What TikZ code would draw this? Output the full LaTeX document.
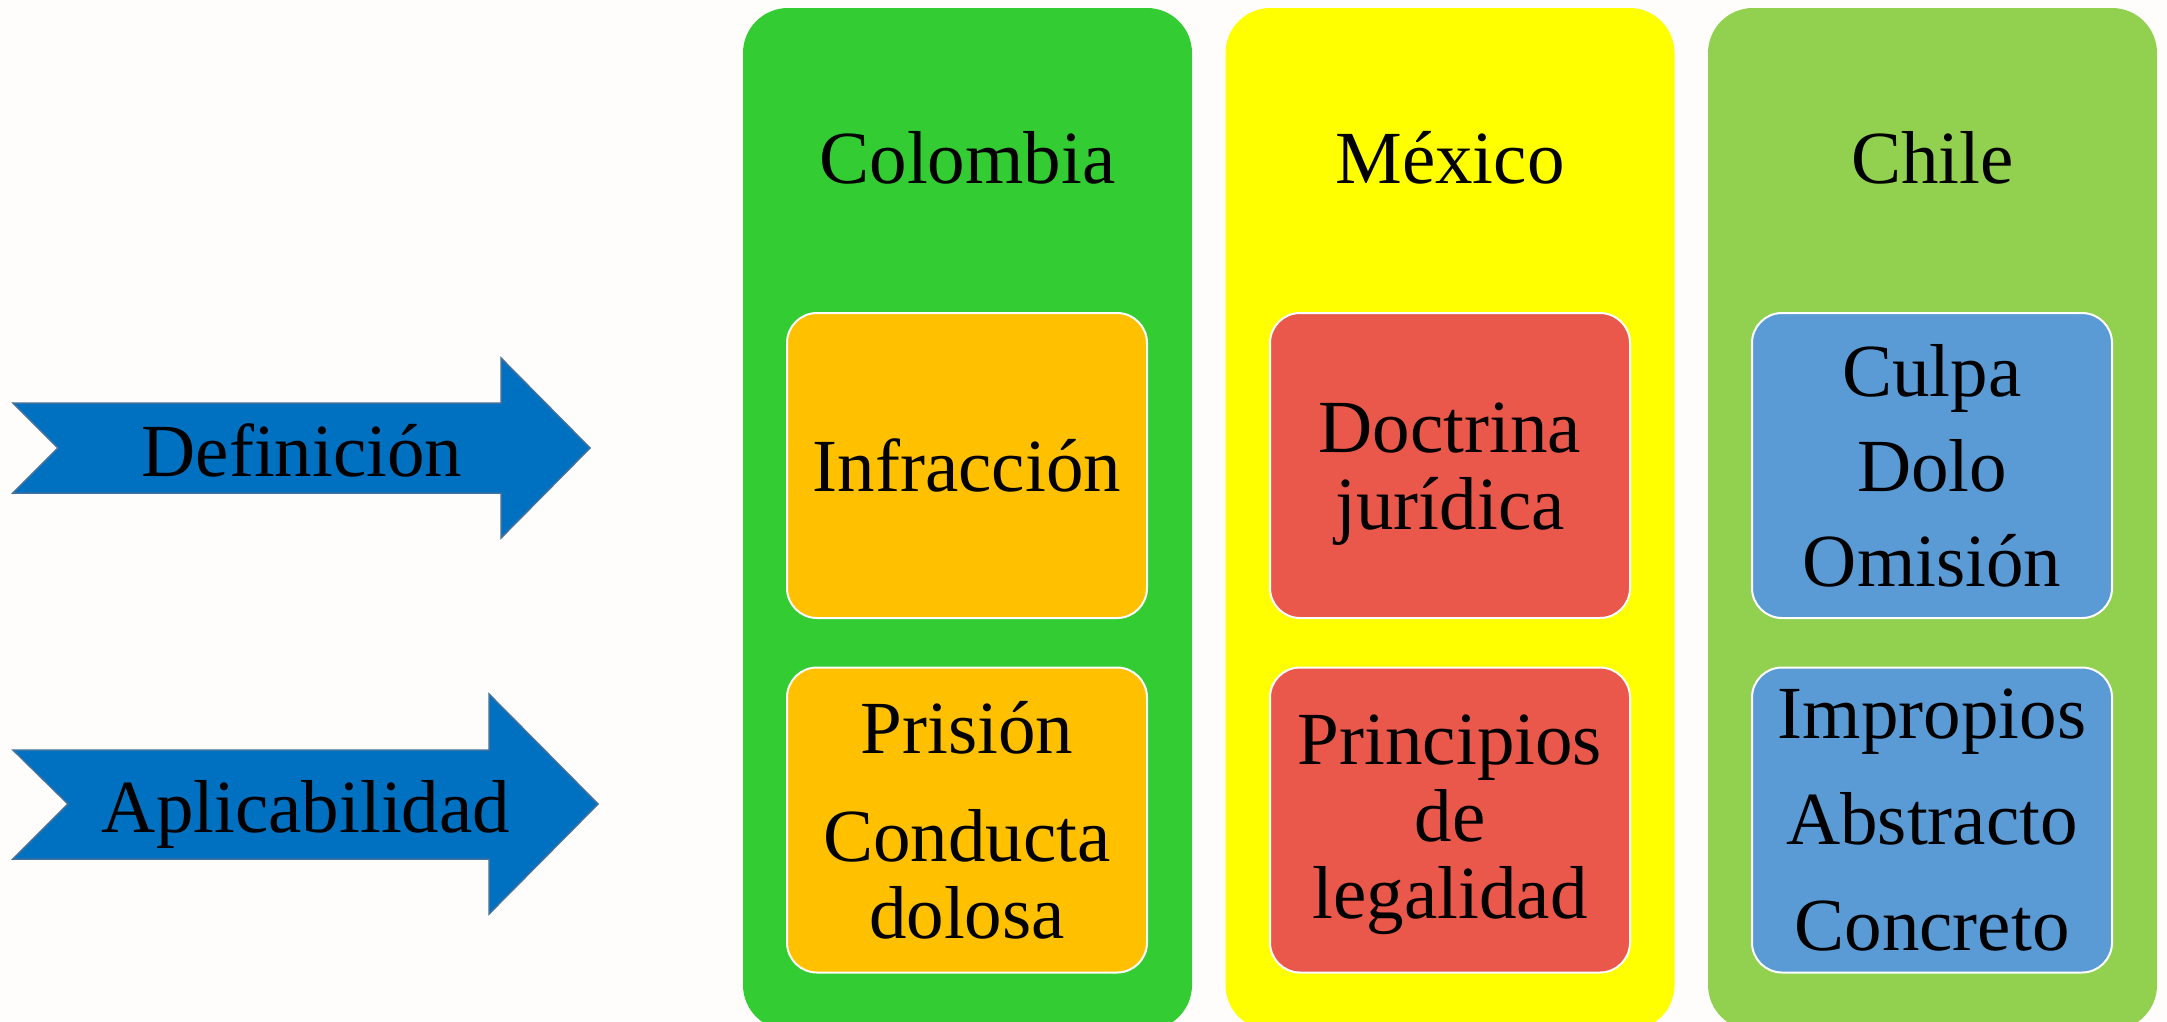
\documentclass[tikz,border=0pt]{standalone}
\usepackage{fontspec}
\setmainfont{Liberation Serif}
\definecolor{fondo}{RGB}{254,253,251}
\definecolor{azul}{HTML}{0070C0}
\definecolor{azulborde}{HTML}{41719C}
\definecolor{verdecol}{HTML}{33CC33}
\definecolor{amarillomex}{HTML}{FFFF00}
\definecolor{verdechi}{HTML}{92D050}
\definecolor{naranja}{HTML}{FFC000}
\definecolor{rojo}{HTML}{E9584B}
\definecolor{celeste}{HTML}{5B9BD5}
\newcommand{\letra}{\fontsize{21.34pt}{21.9pt}\selectfont}
\tikzset{
  pais/.style={rounded corners=4.5mm, minimum width=44.9mm, minimum height=102.2mm, inner sep=0pt},
  caja/.style={draw=white, line width=0.2mm, rounded corners=3mm, minimum width=36mm,
    minimum height=30.5mm, inner sep=0pt, align=center, font=\letra},
  titulo/.style={anchor=base, inner sep=0pt, font=\letra},
  flecha/.style={fill=azul, draw=azulborde, line width=0.15mm}
}
\begin{document}
\begin{tikzpicture}[x=0.1mm, y=-0.1mm]
\fill[fondo] (0,0) rectangle (2167,1021);
\useasboundingbox (0,0) rectangle (2167,1021);
\clip (0,0) rectangle (2167,1021);
% flechas
\filldraw[flecha] (13,403) -- (501,403) -- (501,358) -- (590,448) -- (501,538) -- (501,493) -- (13,493) -- (58,448) -- cycle;
\node[titulo] (definicion) at (302,476) {Definición};
\filldraw[flecha] (13,750) -- (489,750) -- (489,694) -- (598,804) -- (489,914) -- (489,859) -- (13,859) -- (68,804) -- cycle;
\node[titulo] (aplicabilidad) at (306,832) {Aplicabilidad};
% columnas
\node[pais, fill=verdecol] (colombia) at (967.5,519) {};
\node[pais, fill=amarillomex] (mexico) at (1450,519) {};
\node[pais, fill=verdechi] (chile) at (1932.5,519) {};
\node[titulo] (tcol) at (967.5,183) {Colombia};
\node[titulo] (tmex) at (1450,183) {México};
\node[titulo] (tchi) at (1932.5,183) {Chile};
% cajas
\node[caja, fill=naranja] (col1) at (967,465.5) {Infracción};
\node[caja, fill=naranja] (col2) at (967,820) {Prisión\\[8.8pt] Conducta\\ dolosa};
\node[caja, fill=rojo] (mex1) at (1450,465.5) {\rule{0pt}{19pt}Doctrina\\ jurídica};
\node[caja, fill=rojo] (mex2) at (1450,820) {\rule{0pt}{17pt}Principios\\ de\\ legalidad};
\node[caja, fill=celeste] (chi1) at (1932,465.5) {Culpa\\[5.1pt] Dolo\\[5.1pt] Omisión};
\node[caja, fill=celeste] (chi2) at (1932,820) {Impropios\\[8.3pt] Abstracto\\[8.3pt] Concreto};
\end{tikzpicture}
\end{document}
